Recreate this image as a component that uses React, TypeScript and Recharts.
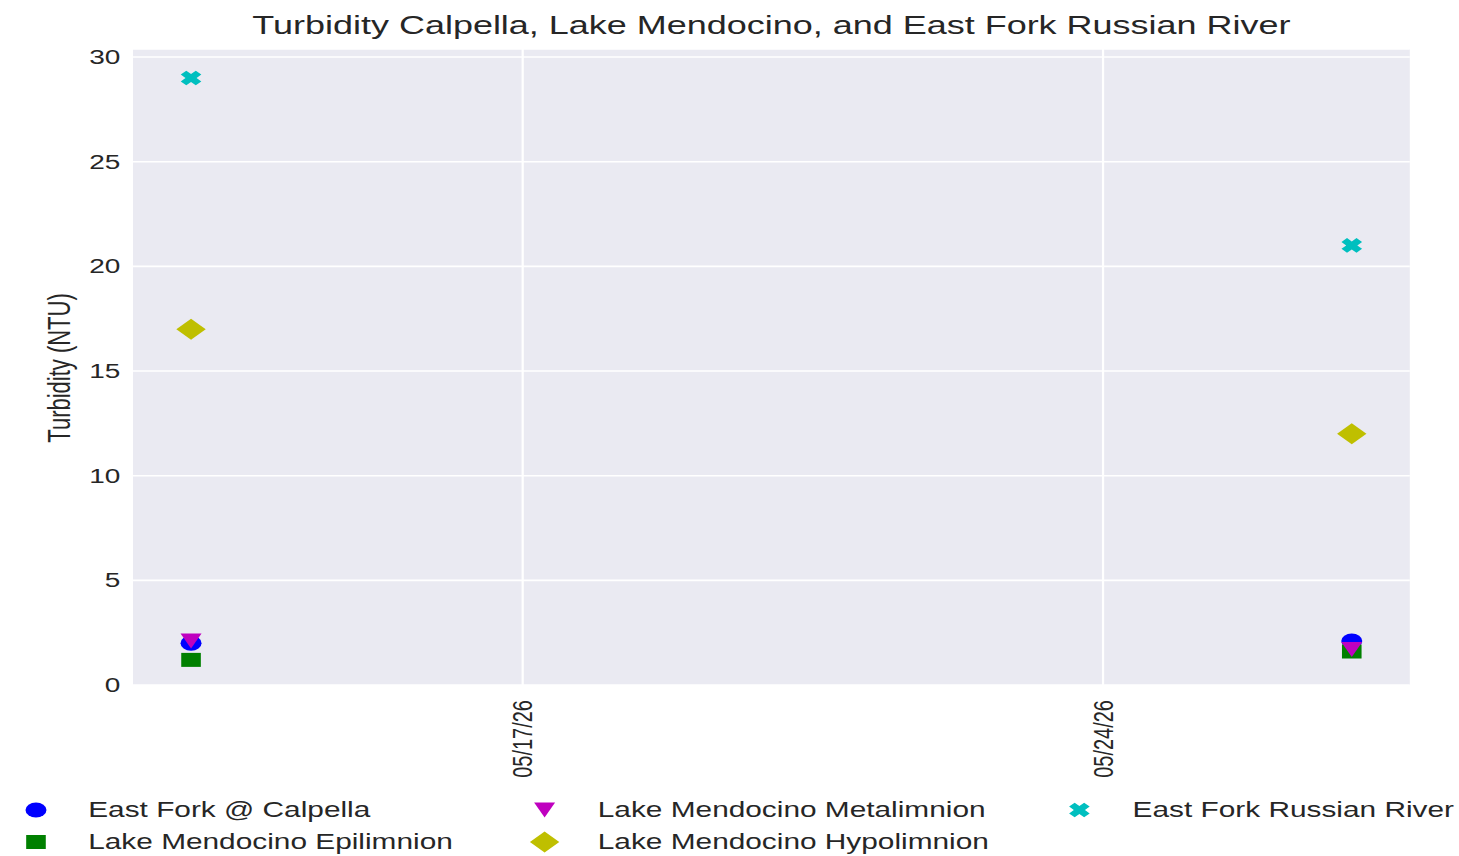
import { CartesianGrid, Label, Scatter, ScatterChart, XAxis, YAxis } from "recharts";

// sample dates and turbidity readings (NTU)
const sampleDates = ["2026-05-13", "2026-05-27"];
const tickDates = ["2026-05-17", "2026-05-24"];
const yTicks = [0, 5, 10, 15, 20, 25, 30];

const eastForkCalpella = [2.0, 2.1];
const epilimnion = [1.2, 1.6];
const metalimnion = [2.1, 1.7];
const hypolimnion = [17, 12];
const eastForkRussian = [29, 21];

const DAY = 86400000;
const toTs = (d: string) => {
    const [y, m, dd] = d.split("-").map(Number);
    return Date.UTC(y, m - 1, dd);
};
const fmtDate = (ts: number) => {
    const d = new Date(ts);
    const p = (n: number) => String(n).padStart(2, "0");
    return `${p(d.getUTCMonth() + 1)}/${p(d.getUTCDate())}/${p(d.getUTCFullYear() % 100)}`;
};

const series = [
    { name: "East Fork @ Calpella", values: eastForkCalpella, color: "#0000FF", kind: "circle" },
    { name: "Lake Mendocino Epilimnion", values: epilimnion, color: "#008000", kind: "square" },
    { name: "Lake Mendocino Metalimnion", values: metalimnion, color: "#BF00BF", kind: "triangle" },
    { name: "Lake Mendocino Hypolimnion", values: hypolimnion, color: "#BFBF00", kind: "diamond" },
    { name: "East Fork Russian River", values: eastForkRussian, color: "#00BFBF", kind: "x" },
];

const W = 1042;
const H = 856;
const STRETCH = 1.4;
const FONT = "'Liberation Sans', Arial, Helvetica, sans-serif";
const TEXT = "#262626";

function xPath(cx: number, cy: number) {
    const a = 2.8, L = 7.6;
    const plus = [[-a, -L], [a, -L], [a, -a], [L, -a], [L, a], [a, a], [a, L], [-a, L], [-a, a], [-L, a], [-L, -a], [-a, -a]];
    const pts = plus.map(([x, y]) => [cx + (x - y) / Math.SQRT2, cy + (x + y) / Math.SQRT2]);
    return "M" + pts.map(p => p[0].toFixed(2) + "," + p[1].toFixed(2)).join("L") + "Z";
}

function Marker({ kind, cx, cy, color }: { kind: string, cx: number, cy: number, color: string }) {
    if (cx == null || cy == null) return null;
    switch (kind) {
        case "circle":
            return <circle cx={cx} cy={cy} r={7.5} fill={color} />;
        case "square":
            return <rect x={cx - 7} y={cy - 7} width={14} height={14} fill={color} />;
        case "triangle":
            return <polygon points={`${cx - 7.5},${cy - 7.5} ${cx + 7.5},${cy - 7.5} ${cx},${cy + 7.5}`} fill={color} />;
        case "diamond":
            return <polygon points={`${cx},${cy - 10.5} ${cx + 10.5},${cy} ${cx},${cy + 10.5} ${cx - 10.5},${cy}`} fill={color} />;
        default:
            return <path d={xPath(cx, cy)} fill={color} />;
    }
}

const XTick = ({ x, y, payload }: any) => {
    const ty = y + 15;
    return <text x={x} y={ty} transform={`rotate(-90 ${x} ${ty})`} textAnchor="end" dy="0.35em"
        fontSize={20} fontFamily={FONT} fill={TEXT}>{fmtDate(payload.value)}</text>;
};

const YTick = ({ x, y, payload }: any) =>
    <text x={x} y={y} textAnchor="end" dy="0.35em" fontSize={20} fontFamily={FONT} fill={TEXT}>{payload.value}</text>;

// legend layout: columns, rows (column-major like matplotlib)
const legendMarkerX = [25.7, 389, 771];
const legendTextX = [63, 427, 809];
const legendRowY = [810, 842];

export default function App() {
    const xs = sampleDates.map(toTs);
    const domain = [xs[0] - 0.7 * DAY, xs[xs.length - 1] + 0.7 * DAY];

    return <div style={{ position: "absolute", left: 0, top: 0, width: W, height: H, transform: `scaleX(${STRETCH})`, transformOrigin: "0 0", background: "#fff" }}>
        <ScatterChart width={W} height={H} margin={{ top: 49, right: 35, bottom: 71, left: 0 }}>
            <CartesianGrid fill="#EAEAF2" stroke="#FFFFFF" strokeWidth={1.6} verticalValues={tickDates.map(toTs)} />
            <XAxis type="number" dataKey="date" domain={domain} ticks={tickDates.map(toTs)} allowDataOverflow
                height={100} axisLine={false} tickLine={false} tickSize={0} tickMargin={0} tick={<XTick />} />
            <YAxis type="number" dataKey="value" domain={[0, 30.385]} ticks={yTicks} allowDataOverflow
                width={95} axisLine={false} tickLine={false} tickSize={0} tickMargin={9} tick={<YTick />}>
                <Label content={() => <text x={42} y={368} transform="rotate(-90 42 368)" textAnchor="middle" dy="0.35em"
                    fontSize={22} fontFamily={FONT} fill={TEXT}>Turbidity (NTU)</text>} />
            </YAxis>
            {series.map(s =>
                <Scatter key={s.name} name={s.name} data={xs.map((d, i) => ({ date: d, value: s.values[i] }))}
                    fill={s.color} isAnimationActive={false}
                    shape={(p: any) => <Marker kind={s.kind} cx={p.cx} cy={p.cy} color={s.color} />} />
            )}
        </ScatterChart>
        <svg width={W} height={H} style={{ position: "absolute", left: 0, top: 0, pointerEvents: "none" }}>
            <text x={551} y={34} textAnchor="middle" fontSize={25.7} fontFamily={FONT} fill={TEXT}>
                Turbidity Calpella, Lake Mendocino, and East Fork Russian River
            </text>
            {series.map((s, i) => {
                const col = Math.floor(i / 2), row = i % 2;
                const cy = legendRowY[row];
                return <g key={s.name}>
                    <Marker kind={s.kind} cx={legendMarkerX[col]} cy={cy} color={s.color} />
                    <text x={legendTextX[col]} y={cy} dy="0.35em" fontSize={21.3} fontFamily={FONT} fill={TEXT}>{s.name}</text>
                </g>;
            })}
        </svg>
    </div>;
}
